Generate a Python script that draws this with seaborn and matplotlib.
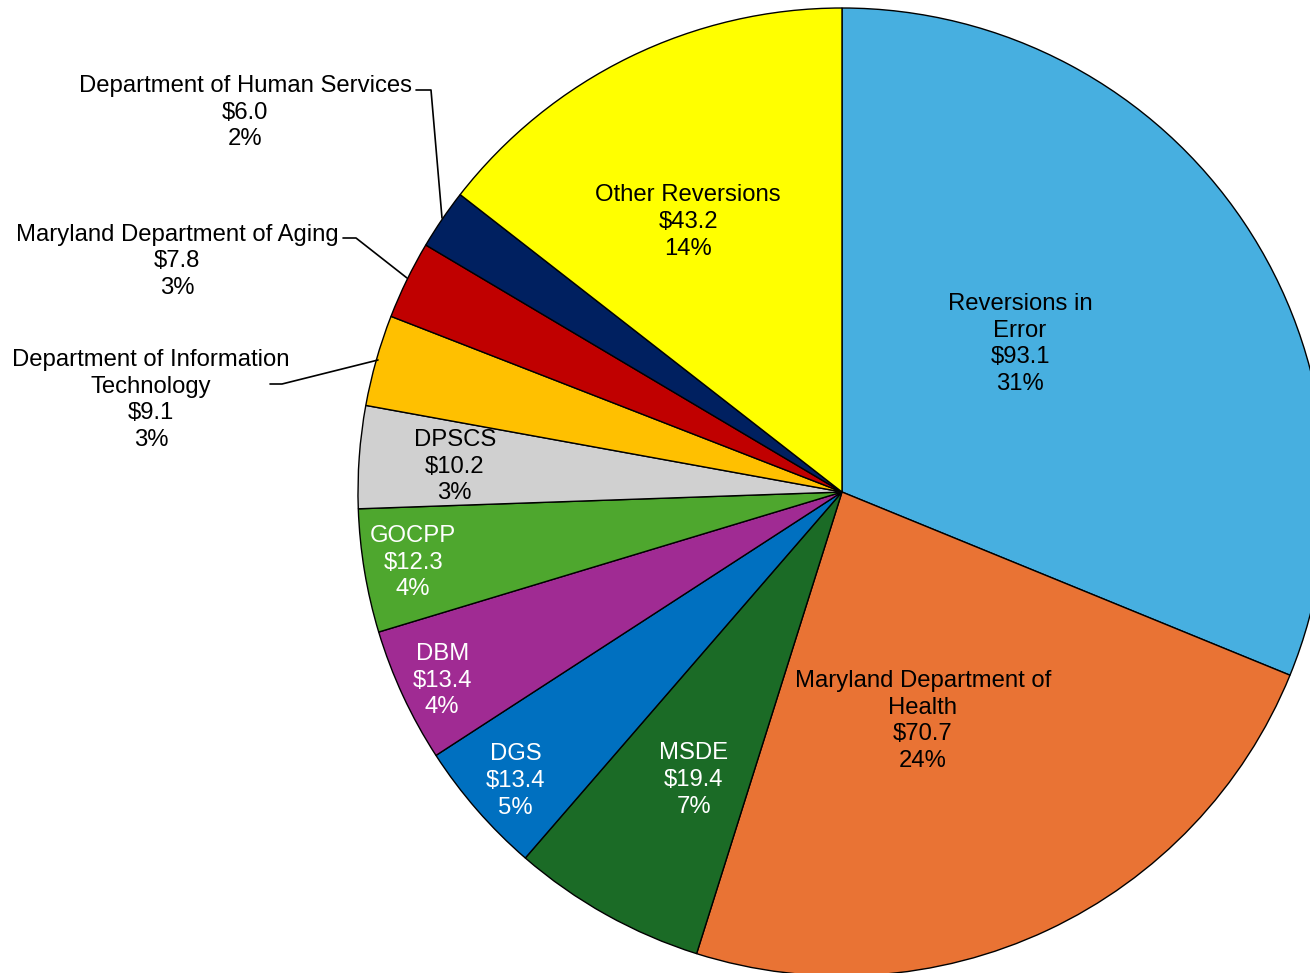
import matplotlib
matplotlib.use("Agg")
import matplotlib.pyplot as plt
import seaborn as sns

# Reversions by agency ($ millions), clockwise from 12 o'clock
labels = ["Reversions in\nError", "Maryland Department of\nHealth", "MSDE", "DGS", "DBM",
          "GOCPP", "DPSCS", "Department of Information\nTechnology",
          "Maryland Department of Aging", "Department of Human Services", "Other Reversions"]
amounts = [93.1, 70.7, 19.4, 13.4, 13.4, 12.3, 10.2, 9.1, 7.8, 6.0, 43.2]
shares = ["31%", "24%", "7%", "5%", "4%", "4%", "3%", "3%", "3%", "2%", "14%"]
colors = ["#47AFE0", "#E97334", "#1B6B26", "#0070C0", "#A02B93", "#4EA72E",
          "#D0D0D0", "#FFC000", "#C00000", "#002060", "#FFFF00"]
text_colors = ["black", "black", "white", "white", "white", "white",
               "black", "black", "black", "black", "black"]

sns.set_style("white")
plt.rcParams["font.family"] = ["Liberation Sans", "DejaVu Sans"]

fig = plt.figure(figsize=(13.1, 9.73), dpi=100)
ax = fig.add_axes([0, 0, 1, 1])

wedges, _ = ax.pie(amounts, colors=colors, startangle=90, counterclock=False,
                   radius=1.0, wedgeprops=dict(edgecolor="black", linewidth=1.0))

# label positions (inside slices, or outside with leader lines)
label_pos = [(0.368, 0.306), (0.167, -0.473), (-0.306, -0.595), (-0.674, -0.597),
             (-0.826, -0.390), (-0.886, -0.146), (-0.800, 0.052), (-1.428, 0.190),
             (-1.374, 0.477), (-1.233, 0.784), (-0.318, 0.558)]

for lab, amt, sh, (x, y), tc in zip(labels, amounts, shares, label_pos, text_colors):
    ax.text(x, y, f"{lab}\n${amt:.1f}\n{sh}", ha="center", va="center",
            fontsize=17.2, color=tc, linespacing=1.27)

# leader lines for the small outside labels
def px(xp, yp):
    return (xp - 842) / 484, (492 - yp) / 484

leaders = [
    [(416, 90), (431, 90), (442, 218)],
    [(343, 238), (356, 238), (407, 278)],
    [(270, 384), (282, 384), (378, 360)],
]
for pts in leaders:
    xs, ys = zip(*[px(*p) for p in pts])
    ax.plot(xs, ys, color="black", linewidth=1.2)

ax.set_xlim(-842 / 484, (1310 - 842) / 484)
ax.set_ylim(-(973 - 492) / 484, 492 / 484)
ax.set_aspect("equal")
ax.axis("off")

fig.savefig("out.png", dpi=100)
